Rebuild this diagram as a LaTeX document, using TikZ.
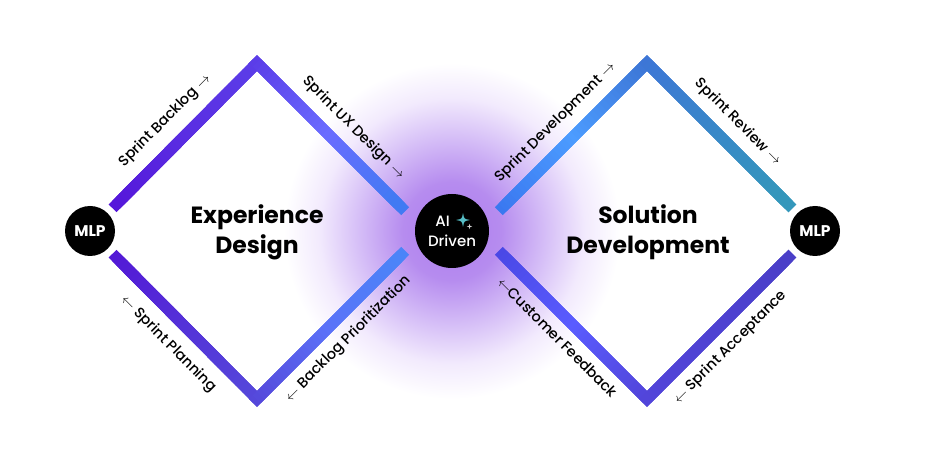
\documentclass[tikz,border=0pt]{standalone}
\usepackage{fontspec}
\setmainfont{Poppins}
\newfontfamily\labelfont{Poppins Medium}
\usetikzlibrary{calc}

\definecolor{glowc}{HTML}{AE7CEE}
\definecolor{glowa}{HTML}{B68CEF}
\definecolor{glowb}{HTML}{D6BFF7}
\definecolor{glowd}{HTML}{F2EAFD}
\definecolor{sparkc}{HTML}{56BEC6}

\pgfdeclareradialshading{aiglow}{\pgfpoint{0bp}{0bp}}{color(0bp)=(glowc); color(7bp)=(glowa); color(13.5bp)=(glowb); color(19bp)=(glowd); color(24bp)=(white); color(50bp)=(white)}

\tikzset{
  blob/.style={circle, fill=black, text=white, inner sep=0pt},
  edge/.style={line width=11pt, line cap=rect},
  steplabel/.style={font=\labelfont\fontsize{14.5}{14.5}\selectfont, sloped, inner sep=0pt, text height=10.5pt, text depth=3.5pt},
  title/.style={font=\bfseries\fontsize{23.5}{30}\selectfont, align=center}
}

\newcommand\gradedge[5]{%
  \definecolor{ga}{HTML}{#3}%
  \definecolor{gb}{HTML}{#4}%
  \definecolor{gc}{HTML}{#5}%
  \foreach \i in {1,...,40}{
    \pgfmathsetmacro\ta{(\i-1)/40}
    \pgfmathsetmacro\tb{\i/40}
    \ifnum\i>20
      \pgfmathtruncatemacro\q{100-5*(\i-21)}
      \colorlet{segc}{gb!\q!gc}
    \else
      \pgfmathtruncatemacro\q{100-5*(\i-1)}
      \colorlet{segc}{ga!\q!gb}
    \fi
    \draw[edge, segc] ($(#1)!\ta!(#2)$) -- ($(#1)!\tb!(#2)$);
  }
}
\newcommand\sparkle[3]{%
  \fill[#3] ($#1+(0,#2)$) .. controls ($#1+(0.15*#2,0.15*#2)$) .. ($#1+(#2,0)$)
    .. controls ($#1+(0.15*#2,-0.15*#2)$) .. ($#1+(0,-#2)$)
    .. controls ($#1+(-0.15*#2,-0.15*#2)$) .. ($#1+(-#2,0)$)
    .. controls ($#1+(-0.15*#2,0.15*#2)$) .. ($#1+(0,#2)$) -- cycle;}
\newcommand\rarr{ $\rightarrow$}
\newcommand\larr{$\leftarrow$ }

\begin{document}
\begin{tikzpicture}[x=1pt, y=-1pt]
\useasboundingbox (0,0) rectangle (935,462);

\coordinate (aic) at (452,231);
\shade[shading=aiglow] (aic) circle (175pt);

\coordinate (lN) at (257,63);
\coordinate (lS) at (257,399);
\coordinate (lE) at (425,231);
\coordinate (rN) at (647,63);
\coordinate (rS) at (647,399);
\coordinate (rW) at (479,231);

\node[blob, minimum size=50pt, font=\bfseries\fontsize{15.5}{15.5}\selectfont] (mlpL) at (90,231) {MLP};
\node[blob, minimum size=50pt, font=\bfseries\fontsize{15.5}{15.5}\selectfont] (mlpR) at (815,231) {MLP};

\coordinate (l1) at ($(mlpL)!37.5pt!(lN)$);
\coordinate (l2) at ($(lE)!33.5pt!(lN)$);
\coordinate (l3) at ($(mlpL)!37.5pt!(lS)$);
\coordinate (l4) at ($(lE)!33.5pt!(lS)$);
\coordinate (r1) at ($(rW)!33.5pt!(rN)$);
\coordinate (r2) at ($(mlpR)!37.5pt!(rN)$);
\coordinate (r3) at ($(rW)!33.5pt!(rS)$);
\coordinate (r4) at ($(mlpR)!37.5pt!(rS)$);

\gradedge{l1}{lN}{5517DA}{5A2DE2}{5B3DE8}
\gradedge{lN}{l2}{5B3DE8}{6A6CFF}{3F7BF2}
\gradedge{l3}{lS}{5319D6}{5432D8}{5548DA}
\gradedge{lS}{l4}{5548DA}{5B72F8}{4A85F8}
\gradedge{r1}{rN}{3A78F0}{4C9CFF}{3D76D6}
\gradedge{rN}{r2}{3D76D6}{3888C8}{3498BA}
\gradedge{r3}{rS}{4A48E6}{5A5CFF}{5245DA}
\gradedge{rS}{r4}{5245DA}{4E42D2}{4A3FC8}

\node[blob, minimum size=74pt, align=center, font=\labelfont\fontsize{15}{20}\selectfont] (ai) at (aic) {AI\hspace*{19pt}\\Driven};
\coordinate (sp1) at ($(ai.center)+(11,-11)$);
\coordinate (sp2) at ($(ai.center)+(17.5,-4.5)$);
\sparkle{(sp1)}{7}{sparkc}
\sparkle{(sp2)}{2.6}{gray!35}

\node[title] (tL) at (257,232) {Experience\\Design};
\node[title] (tR) at (648,232) {Solution\\Development};

\path (mlpL) -- (lN) node[steplabel, pos=.5, above=17pt] {Sprint Backlog\rarr};
\path (lN) -- (lE) node[steplabel, pos=.48, above=15pt] {Sprint UX Design\rarr};
\path (mlpL) -- (lS) node[steplabel, pos=.52, below=17pt] {\larr Sprint Planning};
\path (lS) -- (lE) node[steplabel, pos=.45, below=15pt] {\larr Backlog Prioritization};
\path (rW) -- (rN) node[steplabel, pos=.55, above=15pt] {Sprint Development\rarr};
\path (rN) -- (mlpR) node[steplabel, pos=.5, above=15pt] {Sprint Review\rarr};
\path (rW) -- (rS) node[steplabel, pos=.55, below=14pt] {$\leftarrow$Customer Feedback};
\path (rS) -- (mlpR) node[steplabel, pos=.45, below=15.5pt] {\larr Sprint Acceptance};
\end{tikzpicture}
\end{document}
